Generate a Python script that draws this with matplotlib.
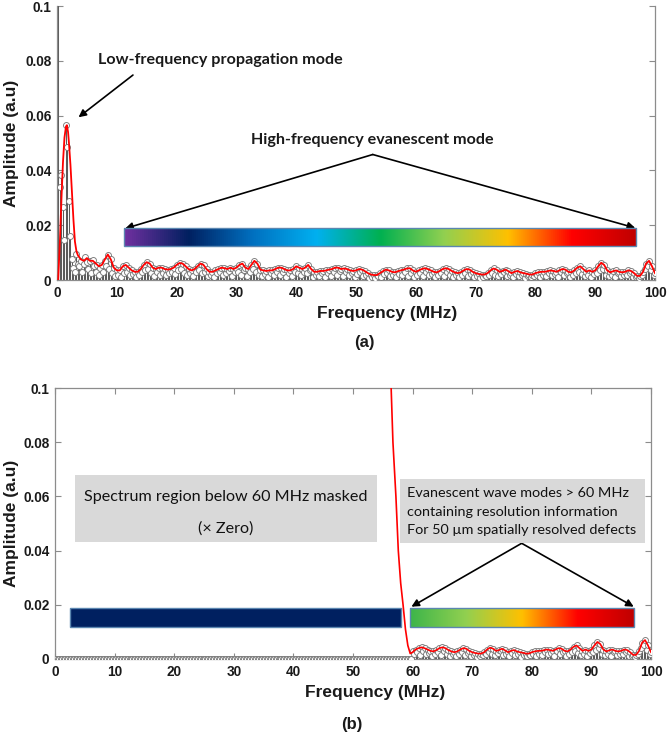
import numpy as np
import matplotlib
matplotlib.use("Agg")
import matplotlib.pyplot as plt
from matplotlib.colors import LinearSegmentedColormap
from matplotlib.patches import Rectangle

# ---------------- data (amplitudes in units of 1e-3) ----------------
freq_step = 0.25  # MHz sampling of the spectrum
spectrum_a = [
    150, 34, 38.5, 26.5, 14.5, 56.5, 48.5, 29, 16, 7.5, 4.5, 3.0, 9.5, 6.0, 5.0, 7.0, 3.0, 6.0, 8.5, 6.5,
    4.0, 7.0, 2.5, 7.3, 5.0, 3.0, 5.5, 2.0, 4.5, 5.5, 3.0, 7.0, 5.0, 9.3, 4.0, 7.5, 2.5, 4.5, 1.5, 3.5,
    2.0, 3.5, 1.2, 5.0, 2.5, 5.5, 3.0, 4.5, 1.8, 3.5, 2.2, 3.0, 1.0, 3.0, 2.0, 4.0, 2.8, 5.5, 3.5, 6.5,
    4.0, 6.0, 2.5, 4.5, 1.5, 4.0, 3.0, 4.5, 2.0, 4.5, 2.5, 4.0, 1.8, 3.8, 2.6, 4.0, 3.0, 4.5, 2.2, 5.5,
    3.5, 6.2, 4.0, 6.0, 2.5, 5.0, 1.8, 4.0, 2.5, 3.5, 1.5, 4.0, 2.8, 5.0, 3.5, 6.0, 2.5, 5.5, 3.0, 4.0,
    1.5, 3.0, 2.0, 3.0, 1.2, 3.5, 2.5, 4.0, 3.0, 4.5, 1.8, 4.3, 2.5, 4.0, 3.2, 4.5, 1.5, 4.0, 2.8, 4.5,
    3.0, 5.5, 2.0, 6.0, 3.5, 4.5, 1.5, 4.0, 3.0, 5.5, 4.0, 7.0, 3.0, 6.0, 2.0, 3.8, 1.5, 3.5, 2.2, 3.3,
    1.0, 3.5, 2.5, 3.5, 1.8, 4.0, 2.8, 4.5, 2.0, 4.5, 3.0, 4.0, 1.2, 3.5, 2.5, 3.5, 1.5, 4.0, 3.0, 5.0,
    2.5, 4.5, 1.8, 4.0, 3.0, 4.5, 2.5, 5.5, 3.5, 4.0, 1.2, 3.0, 2.0, 3.0, 1.5, 3.3, 2.5, 3.3, 1.0, 3.5,
    2.5, 3.8, 1.5, 4.0, 3.0, 4.5, 2.0, 4.5, 3.2, 4.0, 1.5, 4.2, 2.8, 4.0, 1.8, 3.5, 2.5, 3.3, 1.2, 3.5,
    2.2, 4.0, 2.8, 3.8, 1.5, 3.2, 2.0, 2.5, 0.8, 2.0, 1.2, 1.8, 0.6, 1.8, 1.5, 2.5, 1.0, 3.2, 2.2, 3.8,
    2.5, 3.5, 1.5, 3.0, 2.0, 2.8, 1.0, 3.2, 2.2, 3.5, 1.8, 3.8, 2.8, 4.2, 1.5, 4.3, 2.5, 3.5, 1.2, 3.0,
    2.0, 3.5, 2.5, 4.0, 1.5, 4.3, 3.0, 4.0, 1.8, 3.5, 2.2, 3.0, 1.0, 2.8, 2.0, 3.3, 2.5, 4.0, 1.5, 4.3,
    2.8, 4.0, 2.0, 3.3, 1.2, 2.8, 1.8, 2.5, 1.0, 2.8, 2.0, 3.5, 2.5, 4.0, 1.5, 3.8, 2.2, 3.0, 1.2, 2.5,
    1.5, 2.2, 0.8, 2.0, 1.2, 2.0, 1.5, 2.5, 1.8, 3.5, 2.5, 4.2, 2.0, 3.8, 1.5, 3.0, 2.2, 3.3, 2.8, 3.8,
    1.5, 3.2, 2.0, 2.5, 1.0, 3.0, 2.2, 3.3, 1.5, 2.8, 1.8, 2.5, 0.8, 2.3, 1.5, 2.0, 1.0, 2.0, 1.5, 2.5,
    1.8, 2.8, 1.2, 3.0, 2.0, 3.0, 1.5, 3.2, 2.5, 3.5, 1.8, 3.3, 2.2, 3.0, 1.2, 3.5, 2.8, 4.0, 2.0, 3.8,
    2.5, 3.0, 1.0, 2.8, 1.8, 3.5, 2.5, 4.5, 3.0, 5.0, 2.2, 4.0, 1.5, 3.0, 2.0, 3.5, 1.2, 3.0, 2.2, 3.5,
    2.5, 5.0, 3.5, 6.3, 4.0, 5.5, 2.0, 3.5, 1.5, 2.8, 2.0, 3.2, 1.0, 3.5, 2.5, 3.0, 1.5, 2.8, 2.0, 3.0,
    1.8, 3.5, 2.5, 3.3, 1.2, 2.5, 1.0, 1.5, 0.8, 1.5, 1.8, 3.0, 4.0, 6.0, 5.0, 7.0, 3.5, 5.0, 2.0, 2.5,
]

# smooth red curve of panel (a): low-frequency lobe, then 0.5 MHz steps from 3.5 MHz
curve_a_lowf = [0.2, 0.5, 0.75, 1.0, 1.25, 1.5, 1.65, 1.85, 2.0, 2.25, 2.5, 2.75, 3.0, 3.25]
curve_a_lowv = [0, 15, 30, 43, 52, 56, 56.5, 54, 50, 42, 32, 22, 14, 10.5]
curve_a_start, curve_a_step = 3.5, 0.5
curve_a_env = [
    9.0, 7.5, 7.0, 8.0, 7.0, 7.0, 6.0, 5.0, 5.5, 7.5, 9.3, 7.5, 4.5, 3.5, 3.5, 5.0, 5.5, 4.5, 3.5, 3.0,
    3.0, 4.0, 5.5, 6.5, 6.0, 4.5, 4.0, 4.5, 4.5, 4.0, 3.8, 4.0, 4.5, 5.5, 6.2, 6.0, 5.0, 4.0, 3.5, 4.0,
    5.0, 6.0, 5.5, 4.0, 3.0, 3.0, 3.5, 4.0, 4.5, 4.3, 4.0, 4.5, 4.0, 4.5, 5.5, 6.0, 4.5, 4.0, 5.5, 7.0,
    6.0, 3.8, 3.5, 3.3, 3.5, 3.5, 4.0, 4.5, 4.5, 4.0, 3.5, 3.5, 4.0, 5.0, 4.5, 4.0, 4.5, 5.5, 4.0, 3.0,
    3.0, 3.3, 3.3, 3.5, 3.8, 4.0, 4.5, 4.5, 4.0, 4.2, 4.0, 3.5, 3.3, 3.5, 4.0, 3.8, 3.2, 2.5, 2.0, 1.8,
    1.8, 2.5, 3.2, 3.8, 3.5, 3.0, 2.8, 3.2, 3.5, 3.8, 4.2, 4.3, 3.5, 3.0, 3.5, 4.0, 4.3, 4.0, 3.5, 3.0,
    2.8, 3.3, 4.0, 4.3, 4.0, 3.3, 2.8, 2.5, 2.8, 3.5, 4.0, 3.8, 3.0, 2.5, 2.2, 2.0, 2.0, 2.5, 3.5, 4.2,
    3.8, 3.0, 3.3, 3.8, 3.2, 2.5, 3.0, 3.3, 2.8, 2.5, 2.3, 2.0, 2.0, 2.5, 2.8, 3.0, 3.0, 3.2, 3.5, 3.3,
    3.0, 3.5, 4.0, 3.8, 3.0, 2.8, 3.5, 4.5, 5.0, 4.0, 3.0, 3.5, 3.0, 3.5, 5.0, 6.3, 5.5, 3.5, 2.8, 3.2,
    3.5, 3.0, 2.8, 3.0, 3.5, 3.3, 2.5, 1.5, 1.5, 3.0, 6.0, 7.0, 5.0, 2.5,
]

# panel (b): spectrum below 60 MHz multiplied by zero
mask_cutoff = 60.0
# red curve of panel (b) falling from off-scale to the noise floor
curve_b_f = [56.3, 56.4, 56.7, 57.2, 57.6, 58.0, 58.4, 58.8, 59.2, 59.6, 60.0]
curve_b_v = [102, 100, 80, 60, 40, 28, 20, 11, 5, 2, 2.5]

xticks = [0, 10, 20, 30, 40, 50, 60, 70, 80, 90, 100]
yticks = [0, 0.02, 0.04, 0.06, 0.08, 0.1]
ytick_labels = ["0", "0.02", "0.04", "0.06", "0.08", "0.1"]

# ---------------- derived arrays ----------------
amp_a = np.array(spectrum_a) * 1e-3
freq = np.arange(1, len(amp_a) + 1) * freq_step
amp_b = np.where(freq >= mask_cutoff - 1e-9, amp_a, 0.0)

env_f = curve_a_start + curve_a_step * np.arange(len(curve_a_env))
red_a_f = np.concatenate([curve_a_lowf, env_f])
red_a_v = np.concatenate([curve_a_lowv, curve_a_env]) * 1e-3
keep = env_f > 60.0
red_b_f = np.concatenate([curve_b_f, env_f[keep]])
red_b_v = np.concatenate([curve_b_v, np.array(curve_a_env)[keep]]) * 1e-3

# ---------------- figure ----------------
W, H = 669, 734
fig = plt.figure(figsize=(W / 100, H / 100), dpi=100)

def px_box(l, t, r, b):
    return [l / W, 1 - b / H, (r - l) / W, (b - t) / H]

ax_a = fig.add_axes(px_box(57, 6, 655, 280))
ax_b = fig.add_axes(px_box(55, 388, 651, 659))

TICKFAM = ["Liberation Sans", "DejaVu Sans"]
LABELFONT = dict(family=TICKFAM, weight="bold", size=12.5)
ANNFONT = ["Lato", "DejaVu Sans"]
frame_col = "#8c8c8c"


def style_axes(ax, top_spine, xlab_xy, ylab_x):
    ax.set_xlim(0, 100)
    ax.set_ylim(0, 0.1)
    ax.set_xticks(xticks)
    ax.set_yticks(yticks)
    ax.set_yticklabels(ytick_labels)
    for lab in ax.get_xticklabels() + ax.get_yticklabels():
        lab.set_fontfamily(TICKFAM)
        lab.set_fontweight("bold")
        lab.set_fontsize(9.8)
        lab.set_color("#1a1a1a")
    ax.tick_params(direction="in", length=4, width=0.8, color=frame_col,
                   top=top_spine, right=True, pad=4)
    for s in ax.spines.values():
        s.set_color(frame_col)
        s.set_linewidth(0.9)
    ax.spines["top"].set_visible(top_spine)
    ax.set_xlabel("Frequency (MHz)", **LABELFONT, color="#1a1a1a")
    ax.xaxis.set_label_coords(*xlab_xy)
    ax.xaxis.label.set_va("center")
    ax.set_ylabel("Amplitude (a.u)", **LABELFONT, color="#1a1a1a")
    ax.yaxis.set_label_coords(ylab_x, 0.5)
    ax.yaxis.label.set_va("center")


def draw_stems(ax, f, a):
    ax.vlines(f, 0, a, colors="#5a5a5a", linewidth=0.75, zorder=2)
    ax.plot(f, a, linestyle="none", marker="o", markersize=4.3,
            markerfacecolor="white", markeredgecolor="#7a7a7a",
            markeredgewidth=0.65, zorder=3, clip_on=True)


def gradient_bar(ax, x0, x1, y0, y1, colors):
    cmap = LinearSegmentedColormap.from_list("g", colors)
    ax.imshow(np.linspace(0, 1, 512)[None, :], extent=[x0, x1, y0, y1],
              aspect="auto", cmap=cmap, zorder=4, interpolation="bilinear")
    ax.add_patch(Rectangle((x0, y0), x1 - x0, y1 - y0, fill=False,
                           edgecolor="#5b86b0", linewidth=1.0, zorder=5))


arrow_kw = dict(arrowstyle="-|>", color="black", lw=1.2, mutation_scale=11,
                shrinkA=0, shrinkB=0)

# ---- panel (a) ----
draw_stems(ax_a, freq, amp_a)
ax_a.plot(red_a_f, red_a_v, color="#ff0000", lw=1.3, zorder=6)
style_axes(ax_a, False, ((387 - 57) / 598, (280 - 313) / 274), (12 - 57) / 598)

gradient_bar(ax_a, 11.2, 96.9, 0.0125, 0.019,
             ["#7030A0", "#002060", "#0070C0", "#00B0F0", "#00B050",
              "#92D050", "#FFC000", "#FF0000", "#C00000"])

ax_a.text(27.4, 0.0803, "Low-frequency propagation mode", ha="center", va="center",
          fontsize=11.6, fontweight="bold", family=ANNFONT, color="#1a1a1a", zorder=7)
ax_a.annotate("", xy=(3.6, 0.0594), xytext=(12.7, 0.0748), arrowprops=arrow_kw)

ax_a.text(52.8, 0.0511, "High-frequency evanescent mode", ha="center", va="center",
          fontsize=11.6, fontweight="bold", family=ANNFONT, color="#1a1a1a", zorder=7)
ax_a.annotate("", xy=(11.4, 0.0188), xytext=(52.8, 0.0458), arrowprops=arrow_kw)
ax_a.annotate("", xy=(96.7, 0.0190), xytext=(52.8, 0.0458), arrowprops=arrow_kw)

# ---- panel (b) ----
draw_stems(ax_b, freq, amp_b)
ax_b.plot(red_b_f, red_b_v, color="#ff0000", lw=1.2, zorder=6)
style_axes(ax_b, True, ((375.5 - 55) / 596, (659 - 693) / 271), (12 - 55) / 596)

ax_b.add_patch(Rectangle((2.5, 0.0119), 58.0 - 2.5, 0.0187 - 0.0119,
                         facecolor="#002060", edgecolor="#5b86b0", lw=1.0, zorder=5))
gradient_bar(ax_b, 59.6, 97.1, 0.0119, 0.0187,
             ["#3DB54A", "#92D050", "#FFC000", "#FF0000", "#C00000"])

ax_b.add_patch(Rectangle((3.4, 0.043), 54.1 - 3.4, 0.068 - 0.043,
                         facecolor="#d9d9d9", edgecolor="none", zorder=4))
ax_b.text(28.7, 0.0599, "Spectrum region below 60 MHz masked", ha="center", va="center",
          fontsize=11.6, family=ANNFONT, color="#111111", zorder=7)
ax_b.text(28.7, 0.0483, "(\u00d7 Zero)", ha="center", va="center",
          fontsize=11.6, family=ANNFONT, color="#111111", zorder=7)

ax_b.add_patch(Rectangle((57.9, 0.0429), 99.0 - 57.9, 0.0663 - 0.0429,
                         facecolor="#d9d9d9", edgecolor="none", zorder=4))
for yv, s in zip([0.0611, 0.0544, 0.0476],
                 ["Evanescent wave modes > 60 MHz",
                  "containing resolution information",
                  "For 50 \u00b5m spatially resolved defects"]):
    ax_b.text(59.1, yv, s, ha="left", va="center", fontsize=10.4, family=ANNFONT,
              color="#111111", zorder=7)

ax_b.annotate("", xy=(59.8, 0.0193), xytext=(78.3, 0.0427), arrowprops=arrow_kw)
ax_b.annotate("", xy=(97.1, 0.0193), xytext=(78.3, 0.0427), arrowprops=arrow_kw)

# panel captions
fig.text(364 / W, 1 - 343 / H, "(a)", ha="center", va="center",
         fontsize=12, fontweight="bold", family=TICKFAM, color="#1a1a1a")
fig.text(352 / W, 1 - 724 / H, "(b)", ha="center", va="center",
         fontsize=12, fontweight="bold", family=TICKFAM, color="#1a1a1a")

fig.savefig("out.png", dpi=100, facecolor="white")
